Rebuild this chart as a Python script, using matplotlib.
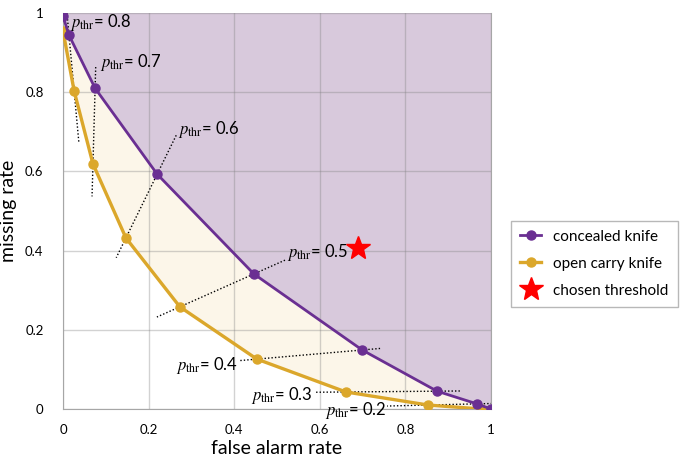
import numpy as np
import matplotlib
matplotlib.use('Agg')
from matplotlib import pyplot as plt

# threshold values and detection rates
thresholds = [0.9, 0.8, 0.7, 0.6, 0.5, 0.4, 0.3, 0.2, 0.1]
concealed_far = [0.0, 0.014, 0.075, 0.22, 0.446, 0.699, 0.874, 0.967, 1.0]
concealed_miss = [0.992, 0.944, 0.81, 0.593, 0.341, 0.149, 0.045, 0.013, 0.0]
open_far = [0.0, 0.026, 0.07, 0.147, 0.273, 0.453, 0.661, 0.853, 0.977]
open_miss = [0.955, 0.803, 0.619, 0.432, 0.258, 0.126, 0.043, 0.01, 0.0]
chosen = (0.689, 0.407)

tick_vals = [0, 0.2, 0.4, 0.6, 0.8, 1]
tick_labels = ['0', '0.2', '0.4', '0.6', '0.8', '1']

# labelled thresholds: (threshold, label position, alignment, extension beyond purple, beyond gold)
label_thr = [0.8, 0.7, 0.6, 0.5, 0.4, 0.3, 0.2]
label_pos = [(0.016, 0.977), (0.086, 0.876), (0.269, 0.705), (0.523, 0.394),
             (0.409, 0.109), (0.582, 0.033), (0.757, -0.003)]
label_ha = ['left', 'left', 'left', 'left', 'right', 'right', 'right']
ext = [(0.41, 0.91), (0.28, 0.43), (0.61, 0.31), (0.42, 0.31),
       (0.17, 0.16), (0.25, 0.34), (0.88, 0.84)]

PURPLE = '#6A2F92'
GOLD = '#DBA72B'

plt.rcParams['font.family'] = ['Lato', 'DejaVu Sans']
plt.rcParams['mathtext.fontset'] = 'stix'

fig = plt.figure(figsize=(6.81, 4.58), dpi=100)
ax = fig.add_axes([63 / 681, 49 / 458, 428 / 681, 396 / 458])

cx = np.array(concealed_far)
cy = np.array(concealed_miss)
ox = np.array(open_far)
oy = np.array(open_miss)

# purple area above the concealed curve
ax.fill(np.concatenate([cx, [1, 0]]), np.concatenate([cy, [1, 1]]),
        color='#D8C9DC', lw=0, zorder=1)
# cream area between the two curves
ax.fill(np.concatenate([cx, ox[::-1]]), np.concatenate([cy, oy[::-1]]),
        color='#FCF6E9', lw=0, zorder=1)

ax.grid(True, color='#7F7F7F', alpha=0.35, lw=1)
for g in ax.get_xgridlines() + ax.get_ygridlines():
    g.set_zorder(2)

ax.plot(cx, cy, '-o', color=PURPLE, lw=2, ms=6.5, zorder=5, label='concealed knife')
ax.plot(ox, oy, '-o', color=GOLD, lw=2.4, ms=6.5, zorder=4, label='open carry knife')
ax.plot(*chosen, marker='*', color='#FF0000', ms=18, ls='none', zorder=6,
        label='chosen threshold')

for thr, pos, ha, (a, b) in zip(label_thr, label_pos, label_ha, ext):
    i = thresholds.index(thr)
    p = np.array([cx[i], cy[i]])
    g = np.array([ox[i], oy[i]])
    d = p - g
    s = p + a * d
    e = g - b * d
    ax.plot([s[0], e[0]], [s[1], e[1]], ls=(0, (1, 1.5)), color='black', lw=1, zorder=3)
    ax.text(pos[0], pos[1], r'$p_{\rm thr}$= %.1f' % thr, fontsize=12,
            ha=ha, va='center', zorder=7)

ax.set_xlim(0, 1)
ax.set_ylim(0, 1)
ax.set_xticks(tick_vals)
ax.set_xticklabels(tick_labels)
ax.set_yticks(tick_vals)
ax.set_yticklabels(tick_labels)
ax.tick_params(length=0, labelsize=9.5, pad=11)
ax.tick_params(axis='y', pad=14)
for side in ['left', 'bottom', 'right']:
    ax.spines[side].set_color('#A6A6A6')
ax.spines['top'].set_visible(False)

ax.set_xlabel('false alarm rate', fontsize=14, labelpad=3)
ax.set_ylabel('missing rate', fontsize=14, labelpad=6)

leg = fig.legend(loc='upper left', bbox_to_anchor=(503 / 681, 1 - 213 / 458),
                 fontsize=11, frameon=True, fancybox=False, handlelength=1.4,
                 borderpad=0.6, labelspacing=0.85, handletextpad=0.8)
leg.get_frame().set_edgecolor('#A6A6A6')
leg.get_frame().set_linewidth(1)

fig.savefig('out.png', dpi=100)
